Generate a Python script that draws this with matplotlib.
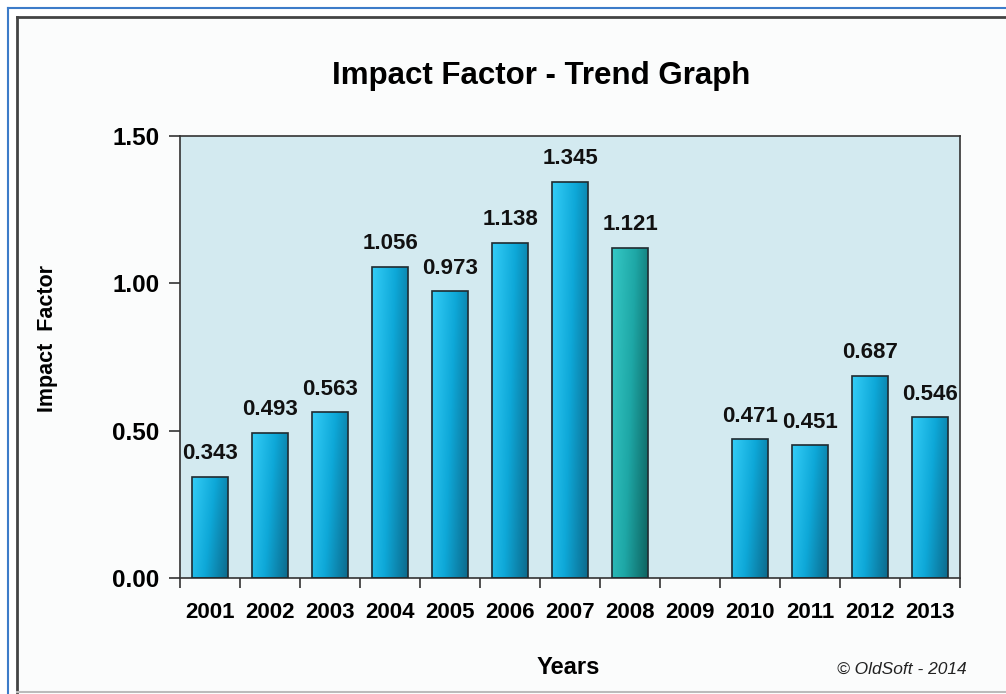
import numpy as np
import matplotlib
matplotlib.use("Agg")
import matplotlib.pyplot as plt
from matplotlib.colors import LinearSegmentedColormap
from matplotlib.patches import Rectangle
from matplotlib.lines import Line2D

plt.rcParams['font.family'] = ['Liberation Sans', 'DejaVu Sans']

# data
years = ['2001', '2002', '2003', '2004', '2005', '2006', '2007',
         '2008', '2009', '2010', '2011', '2012', '2013']
impact = [0.343, 0.493, 0.563, 1.056, 0.973, 1.138, 1.345,
          1.121, np.nan, 0.471, 0.451, 0.687, 0.546]
highlight = '2008'
yticks = [0.0, 0.5, 1.0, 1.5]

blue_cmap = LinearSegmentedColormap.from_list('b', ['#34cdf7', '#0ea8d8', '#0c6a8c'])
teal_cmap = LinearSegmentedColormap.from_list('t', ['#36c9c6', '#1ea7a6', '#0e6360'])

fig = plt.figure(figsize=(10.06, 6.94), dpi=100)
fig.patch.set_facecolor('white')

# frame lines around the chart
W, H = 1006, 694
def px(x, y):
    return x / W, 1 - y / H
fig.add_artist(Line2D([8 / W, 1], [1 - 8 / H] * 2, color='#3d7cc9', lw=1.5))
fig.add_artist(Line2D([8 / W] * 2, [1 - 8 / H, 0], color='#3d7cc9', lw=1.5))
fig.add_artist(Rectangle(px(17, 692), 1 - 17 / W, (692 - 17) / H, facecolor='#fbfcfc',
                         edgecolor='none', zorder=-5))
fig.add_artist(Line2D([17 / W, 1], [1 - 17 / H] * 2, color='#444444', lw=2))
fig.add_artist(Line2D([17 / W] * 2, [1 - 17 / H, 1 - 692 / H], color='#444444', lw=2))
fig.add_artist(Line2D([17 / W, 1], [1 - 692 / H] * 2, color='#bbbbbb', lw=1.5))

ax = fig.add_axes([180 / W, 1 - 578 / H, 780 / W, (578 - 136) / H])
ax.set_facecolor('#d3eaf0')

x = np.arange(len(years))
bars = ax.bar(x, impact, width=0.6, facecolor='none', edgecolor='#1f2b30',
              linewidth=1.2, zorder=3)

# diagonal gradient fill for each bar
gx, gy = np.meshgrid(np.linspace(0, 1, 60), np.linspace(0, 1, 200))
grad = 0.75 * gx + 0.25 * gy
for b, yr in zip(bars, years):
    h = b.get_height()
    if np.isnan(h):
        continue
    cmap = teal_cmap if yr == highlight else blue_cmap
    im = ax.imshow(grad, cmap=cmap, extent=(b.get_x(), b.get_x() + b.get_width(), 0, h),
                   origin='upper', aspect='auto', zorder=2, interpolation='bilinear')
    im.set_clip_path(b)
    ax.annotate(f'{h:.3f}', (b.get_x() + b.get_width() / 2, h), xytext=(0, 9),
                textcoords='offset points', ha='center', va='bottom',
                fontsize=16, fontweight='bold', color='#111111')

ax.set_xlim(-0.5, len(years) - 0.5)
ax.set_ylim(0, 1.5)
ax.set_yticks(yticks)
ax.set_yticklabels([f'{v:.2f}' for v in yticks])
ax.set_xticks(x)
ax.set_xticklabels(years)
ax.set_xticks(np.arange(len(years) + 1) - 0.5, minor=True)
ax.tick_params(axis='x', which='major', length=0, pad=17, labelsize=16)
ax.tick_params(axis='x', which='minor', length=7, width=1.2, color='#333333')
ax.tick_params(axis='y', length=8, width=1.2, color='#333333', pad=7, labelsize=17.5)
for t in ax.get_xticklabels() + ax.get_yticklabels():
    t.set_fontweight('bold')
for s in ax.spines.values():
    s.set_color('#333333')
    s.set_linewidth(1.2)

fig.text(541 / W, 1 - 76 / H, 'Impact Factor - Trend Graph', ha='center', va='center',
         fontsize=22.5, fontweight='bold')
fig.text(48 / W, 1 - 338 / H, 'Impact  Factor', ha='center', va='center', rotation=90,
         fontsize=15.5, fontweight='bold')
fig.text(568 / W, 1 - 668 / H, 'Years', ha='center', va='center', fontsize=17,
         fontweight='bold')
fig.text(902 / W, 1 - 669 / H, '\u00a9 OldSoft - 2014', ha='center', va='center',
         fontsize=12.5, style='italic', color='#222222')

fig.savefig('out.png', dpi=100)
